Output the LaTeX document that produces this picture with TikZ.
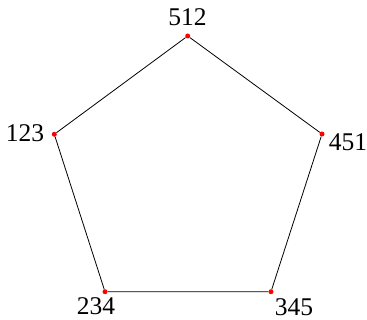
\documentclass[tikz,border=0pt]{standalone}
\usepackage{fontspec}
\setmainfont{Liberation Serif}
\begin{document}
\begin{tikzpicture}[x=1pt,y=-1pt,
  vtx/.style={circle,fill=red,inner sep=0pt,minimum size=5pt},
  lbl/.style={font=\fontsize{25.5}{25.5}\selectfont,inner sep=0pt},
  edge/.style={draw=black,line width=0.8pt}]
\useasboundingbox (0,0) rectangle (367,320);
\node[vtx] (a) at (187.7,36) {};
\node[vtx] (b) at (322,134) {};
\node[vtx] (c) at (271,291.7) {};
\node[vtx] (d) at (105,291.7) {};
\node[vtx] (e) at (54.3,134.3) {};
\draw[edge] (a) -- (b) -- (c) -- (d) -- (e) -- (a);
\node[lbl] (la) at (187.5,17.5) {512};
\node[lbl] (lb) at (348,142) {451};
\node[lbl] (lc) at (294,307) {345};
\node[lbl] (ld) at (96,306) {234};
\node[lbl] (le) at (25,133) {123};
\end{tikzpicture}
\end{document}
